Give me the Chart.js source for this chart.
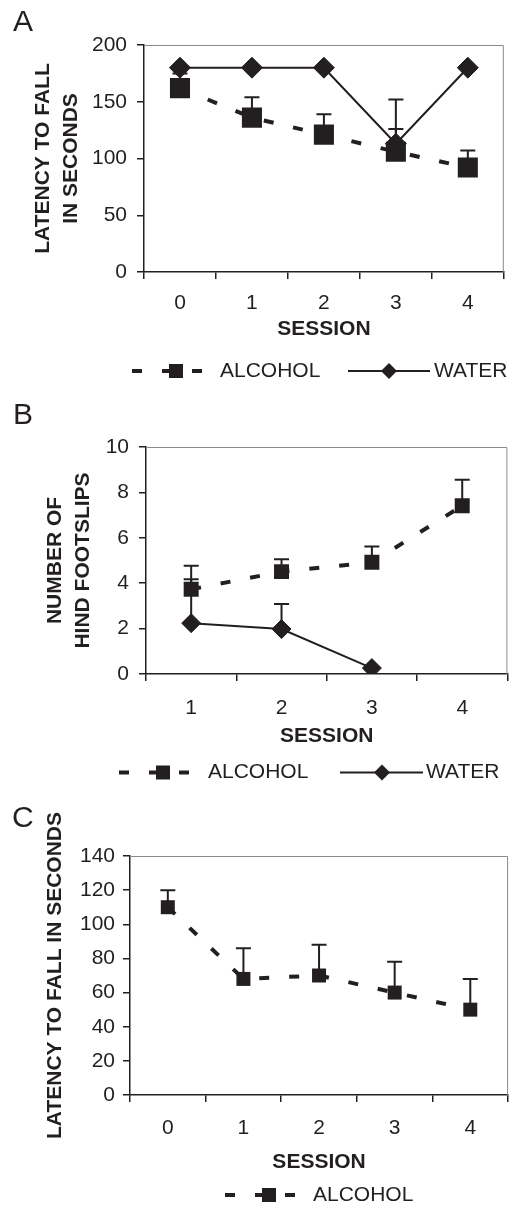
<!DOCTYPE html>
<html>
<head>
<meta charset="utf-8">
<script src="https://cdn.jsdelivr.net/npm/chart.js@4/dist/chart.umd.min.js"></script>
<style>
  html, body { margin: 0; padding: 0; background: #fff; }
  #wrap { position: relative; width: 518px; height: 1206px; overflow: hidden; }
  canvas { position: absolute; left: 0; }
</style>
</head>
<body>
<div id="wrap">
  <canvas id="panelA" width="518" height="390" style="top:0px"></canvas>
  <canvas id="panelB" width="518" height="400" style="top:390px"></canvas>
  <canvas id="panelC" width="518" height="416" style="top:790px"></canvas>
</div>
<script>
// ---- Panel A: rotarod latency, sessions 0-4 ----
const sessionsA = ['0', '1', '2', '3', '4'];
const alcoholA = [162, 136, 121, 106, 92];
const alcoholErrA = [13, 18, 18, 20, 15];
const waterA = [180, 180, 180, 113, 180];
const waterErrA = [0, 0, 0, 39, 0];
const yTicksA = { min: 0, max: 200, step: 50 };

// ---- Panel B: hind footslips, sessions 1-4 ----
const sessionsB = ['1', '2', '3', '4'];
const alcoholB = [3.73, 4.51, 4.92, 7.41];
const alcoholErrB = [1.04, 0.55, 0.70, 1.15];
const waterB = [2.24, 1.98, 0.26, null];
const waterErrB = [1.93, 1.10, 0, null];
const yTicksB = { min: 0, max: 10, step: 2 };

// ---- Panel C: latency, alcohol group only ----
const sessionsC = ['0', '1', '2', '3', '4'];
const alcoholC = [110, 68, 70, 60, 50];
const alcoholErrC = [10, 18, 18, 18, 18];
const yTicksC = { min: 0, max: 140, step: 20 };

const INK = '#231f20';
const FONT = '"Liberation Sans", Arial, Helvetica, sans-serif';

// upward (plus) error bars, drawn under the markers
const errorBars = {
  id: 'errorBars',
  beforeDatasetsDraw(chart, args, opts) {
    const { ctx } = chart;
    const yScale = chart.scales.y;
    chart.data.datasets.forEach((ds, i) => {
      if (!ds.errors) return;
      const meta = chart.getDatasetMeta(i);
      ds.data.forEach((v, j) => {
        const e = ds.errors[j];
        if (v == null || !e) return;
        const px = meta.data[j].x;
        const y0 = yScale.getPixelForValue(v);
        const y1 = yScale.getPixelForValue(v + e);
        ctx.save();
        ctx.strokeStyle = INK;
        ctx.lineWidth = 2;
        ctx.beginPath();
        ctx.moveTo(px, y0);
        ctx.lineTo(px, y1);
        ctx.moveTo(px - opts.cap, y1);
        ctx.lineTo(px + opts.cap, y1);
        ctx.stroke();
        ctx.restore();
      });
    });
  }
};

// grey top and right edges of the plot box
const plotFrame = {
  id: 'plotFrame',
  beforeDatasetsDraw(chart) {
    const { ctx, chartArea: a } = chart;
    ctx.save();
    ctx.strokeStyle = '#8a8a8a';
    ctx.lineWidth = 1;
    ctx.beginPath();
    ctx.moveTo(a.left, a.top + 0.5);
    ctx.lineTo(a.right - 0.5, a.top + 0.5);
    ctx.lineTo(a.right - 0.5, a.bottom);
    ctx.stroke();
    ctx.restore();
  }
};

function drawMarker(ctx, style, x, y, size) {
  ctx.beginPath();
  if (style === 'rect') {
    ctx.rect(x - size / 2, y - size / 2, size, size);
  } else {
    ctx.moveTo(x - size, y);
    ctx.lineTo(x, y - size);
    ctx.lineTo(x + size, y);
    ctx.lineTo(x, y + size);
    ctx.closePath();
  }
  ctx.fillStyle = INK;
  ctx.fill();
}

// legend row: sample line + marker + label for each series
const keyLegend = {
  id: 'keyLegend',
  afterDraw(chart, args, opts) {
    const { ctx } = chart;
    opts.items.forEach(item => {
      const ds = chart.data.datasets[item.dataset];
      ctx.save();
      ctx.strokeStyle = INK;
      ctx.lineWidth = ds.borderWidth;
      ctx.setLineDash(ds.borderDash || []);
      ctx.beginPath();
      ctx.moveTo(item.from, opts.y);
      ctx.lineTo(item.to, opts.y);
      ctx.stroke();
      ctx.setLineDash([]);
      drawMarker(ctx, ds.pointStyle, item.marker, opts.y, item.size);
      ctx.fillStyle = INK;
      ctx.font = '21px ' + FONT;
      ctx.textAlign = 'left';
      ctx.textBaseline = 'middle';
      ctx.fillText(ds.label, item.text, opts.y);
      ctx.restore();
    });
  }
};

// panel letter in the top-left corner
const panelTag = {
  id: 'panelTag',
  afterDraw(chart, args, opts) {
    const { ctx } = chart;
    ctx.save();
    ctx.fillStyle = INK;
    ctx.font = '30px ' + FONT;
    ctx.textAlign = 'left';
    ctx.textBaseline = 'alphabetic';
    ctx.fillText(opts.text, opts.x, opts.y);
    ctx.restore();
  }
};

function alcoholSet(data, errs, radius) {
  return {
    label: 'ALCOHOL',
    data: data,
    errors: errs,
    borderColor: INK,
    backgroundColor: INK,
    borderWidth: 4,
    borderDash: [10, 20],
    tension: 0,
    pointStyle: 'rect',
    pointRadius: radius,
    pointHoverRadius: radius,
    pointBorderWidth: 0,
    pointBackgroundColor: INK
  };
}

function waterSet(data, errs, radius) {
  return {
    label: 'WATER',
    data: data,
    errors: errs,
    borderColor: INK,
    backgroundColor: INK,
    borderWidth: 2,
    tension: 0,
    spanGaps: false,
    pointStyle: 'rectRot',
    pointRadius: radius,
    pointHoverRadius: radius,
    pointBorderWidth: 1,
    pointBorderColor: INK,
    pointBackgroundColor: INK
  };
}

function makePanel(id, labels, datasets, yTicks, g) {
  return new Chart(document.getElementById(id), {
    type: 'line',
    data: { labels: labels, datasets: datasets },
    options: {
      responsive: false,
      animation: false,
      events: [],
      layout: { padding: { top: g.top, right: g.right, bottom: g.bottom, left: 0 } },
      plugins: {
        legend: { display: false },
        tooltip: { enabled: false },
        errorBars: { cap: 7.5 },
        keyLegend: g.legend,
        panelTag: g.tag
      },
      scales: {
        x: {
          type: 'category',
          offset: true,
          grid: { offset: true, drawOnChartArea: false, drawTicks: true, tickLength: 7, color: INK, lineWidth: 1.5 },
          border: { display: true, color: INK, width: 1.5 },
          ticks: { color: INK, font: { family: FONT, size: 21 }, padding: g.xPad, maxRotation: 0, autoSkip: false },
          title: { display: true, text: 'SESSION', color: INK, font: { family: FONT, size: 21, weight: 'bold', lineHeight: 1.2 }, padding: 0 },
          afterFit(s) { s.height = g.xHeight; }
        },
        y: {
          min: yTicks.min,
          max: yTicks.max,
          grid: { drawOnChartArea: false, drawTicks: true, tickLength: 7, color: INK, lineWidth: 1.5 },
          border: { display: true, color: INK, width: 1.5 },
          ticks: { stepSize: yTicks.step, color: INK, font: { family: FONT, size: 21 }, padding: g.yPad },
          title: { display: true, text: g.yTitle, color: INK, font: { family: FONT, size: 21, weight: 'bold', lineHeight: g.yLine }, padding: { top: g.yTitlePad, bottom: 0 } },
          afterFit(s) { s.width = g.yWidth; }
        }
      }
    },
    plugins: [plotFrame, errorBars, keyLegend, panelTag]
  });
}

makePanel('panelA', sessionsA,
  [alcoholSet(alcoholA, alcoholErrA, 14.2), waterSet(waterA, waterErrA, 10.5)],
  yTicksA, {
    top: 45, right: 6, bottom: 48, xHeight: 70, yWidth: 144, xPad: 12, yPad: 10,
    yTitle: ['LATENCY TO FALL', 'IN SECONDS'], yLine: 1.3, yTitlePad: 30,
    tag: { text: 'A', x: 13, y: 31 },
    legend: { y: 371, items: [
      { dataset: 0, from: 132, to: 204, marker: 176, size: 14, text: 220 },
      { dataset: 1, from: 348, to: 430, marker: 389, size: 8, text: 434 }
    ] }
  });

makePanel('panelB', sessionsB,
  [alcoholSet(alcoholB, alcoholErrB, 10.6), waterSet(waterB, waterErrB, 9.5)],
  yTicksB, {
    top: 57, right: 6, bottom: 41, xHeight: 75, yWidth: 146, xPad: 15, yPad: 10,
    yTitle: ['NUMBER OF', 'HIND FOOTSLIPS'], yLine: 1.3, yTitlePad: 42,
    tag: { text: 'B', x: 13, y: 34 },
    legend: { y: 382.5, items: [
      { dataset: 0, from: 119, to: 191, marker: 163, size: 14, text: 208 },
      { dataset: 1, from: 340, to: 423, marker: 382, size: 8, text: 426 }
    ] }
  });

makePanel('panelC', sessionsC,
  [alcoholSet(alcoholC, alcoholErrC, 9.9)],
  yTicksC, {
    top: 66, right: 6, bottom: 31, xHeight: 80, yWidth: 130, xPad: 14, yPad: 8,
    yTitle: 'LATENCY TO FALL IN SECONDS', yLine: 1.2, yTitlePad: 43,
    tag: { text: 'C', x: 12, y: 37 },
    legend: { y: 405, items: [
      { dataset: 0, from: 225, to: 297, marker: 269, size: 14, text: 313 }
    ] }
  });
</script>
</body>
</html>
